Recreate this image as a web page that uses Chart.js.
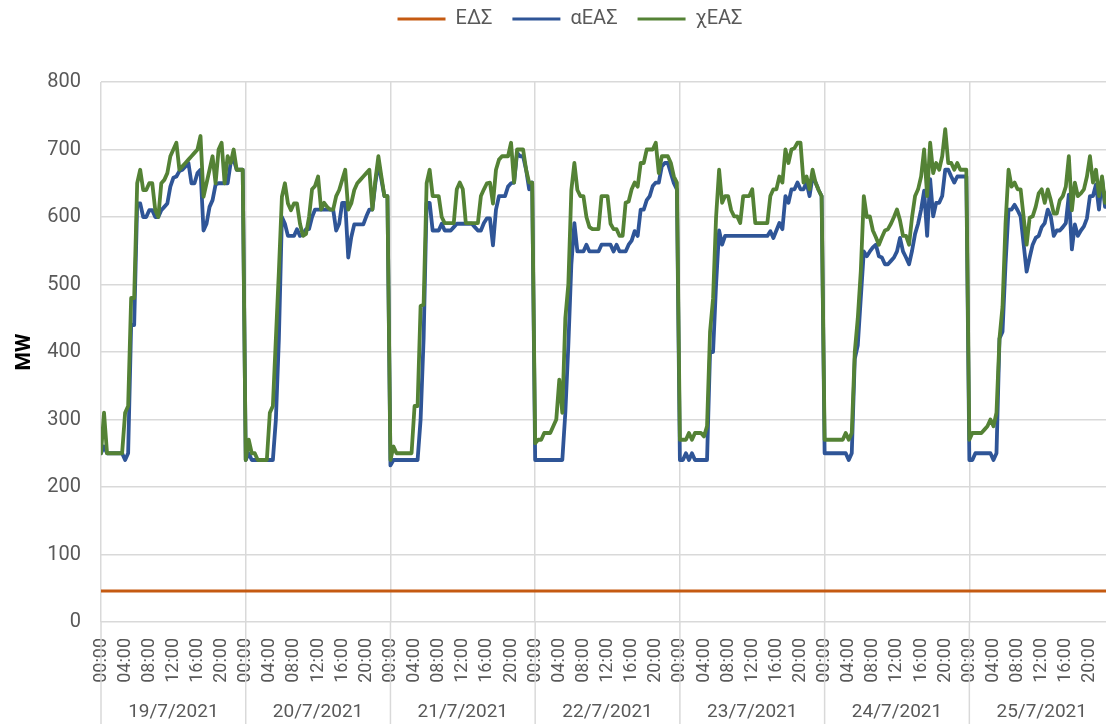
<!DOCTYPE html>
<html>
<head>
<meta charset="utf-8">
<script src="https://cdn.jsdelivr.net/npm/chart.js@4.4.1/dist/chart.umd.min.js"></script>
<style>
  html, body { margin: 0; padding: 0; background: #fff; overflow: hidden; }
  #wrap { width: 1140px; height: 724px; position: relative; }
</style>
</head>
<body>
<div id="wrap"><canvas id="chart"></canvas></div>
<script>
// half-hourly values, 48 per day
const dayLabels = ['19/7/2021', '20/7/2021', '21/7/2021', '22/7/2021', '23/7/2021', '24/7/2021', '25/7/2021'];
const hourTicks = ['00:00', '04:00', '08:00', '12:00', '16:00', '20:00'];
const STEPS_PER_DAY = 48;
const edsLevel = 46;

const aeas19 = [250,260,250,250,250,250,250,250, 240,250,440,440,620,620,600,600, 610,610,600,600,610,615,620,645, 658,660,668,670,675,680,650,650, 665,670,580,590,615,625,648,650, 650,650,650,680,685,670,670,670];
const aeas20 = [240,250,240,240,240,240,240,240, 240,240,300,420,600,590,572,572, 572,582,572,575,582,582,600,611, 611,611,611,611,611,611,580,590, 621,621,540,570,589,589,589,589, 601,611,611,650,680,655,631,631];
const aeas21 = [232,240,240,240,240,240,240,240, 240,240,300,420,621,621,580,580, 580,590,580,580,580,585,590,590, 590,590,590,590,585,580,580,591, 598,598,558,611,631,631,631,645, 650,651,695,690,690,670,641,651];
const aeas22 = [240,240,240,240,240,240,240,240, 240,240,310,410,530,591,549,549, 549,559,549,549,549,549,559,559, 559,559,549,559,549,549,549,559, 565,579,572,611,611,625,631,646, 651,651,675,680,680,665,650,641];
const aeas23 = [240,240,250,240,250,240,240,240, 240,240,400,400,500,580,559,572, 572,572,572,572,572,572,572,572, 572,572,572,572,572,572,579,569, 580,591,582,631,621,641,641,651, 641,641,651,631,660,651,640,631];
const aeas24 = [250,250,250,250,250,250,250,250, 240,250,390,410,480,549,542,549, 555,559,542,540,530,530,535,540, 549,569,549,540,530,550,575,590, 611,639,572,656,601,621,621,631, 670,670,660,651,660,660,660,660];
const aeas25 = [240,240,250,250,250,250,250,250, 240,250,420,430,530,611,611,618, 610,601,560,519,540,559,569,572, 585,591,611,601,572,580,580,585, 591,633,552,589,572,580,586,598, 631,631,648,611,658,615,620,630];

const xeas19 = [250,310,250,250,250,250,250,250, 310,320,480,480,650,670,640,640, 650,650,610,600,650,655,665,690, 700,710,670,675,680,685,690,695, 700,720,630,650,670,690,650,700, 710,650,690,680,700,670,670,670];
const xeas20 = [240,270,250,250,240,240,240,240, 310,320,420,520,630,650,620,610, 620,620,590,572,575,600,641,646, 660,611,621,615,611,611,631,640, 655,670,611,620,640,650,655,660, 665,670,611,655,690,660,631,631];
const xeas21 = [240,260,250,250,250,250,250,250, 320,320,468,470,650,670,631,631, 631,600,591,591,591,591,641,651, 641,591,591,591,591,591,631,641, 650,651,620,670,685,690,690,690, 710,651,700,700,700,670,651,651];
const xeas22 = [265,270,270,280,280,280,290,300, 359,310,450,500,640,680,640,631, 631,600,585,582,582,582,631,631, 631,590,582,582,572,572,621,623, 641,651,645,680,680,700,700,700, 710,665,690,690,690,680,660,651];
const xeas23 = [270,270,270,280,270,280,280,280, 275,290,430,479,600,670,621,631, 631,610,601,601,591,631,631,631, 641,591,591,591,591,591,631,641, 641,660,651,700,680,700,702,710, 710,651,660,641,670,651,640,631];
const xeas24 = [270,270,270,270,270,270,270,280, 270,280,400,450,520,631,600,601, 580,570,559,570,580,582,590,600, 611,595,572,572,559,600,631,641, 660,700,631,710,665,680,670,690, 730,680,680,670,680,670,670,670];
const xeas25 = [270,280,280,280,280,285,290,300, 290,310,420,467,590,670,645,651, 641,641,600,559,599,601,615,635, 641,621,641,625,605,605,625,631, 645,690,610,651,631,635,641,660, 690,651,670,631,660,621,640,650];

const aeasMW = [].concat(aeas19, aeas20, aeas21, aeas22, aeas23, aeas24, aeas25);
const xeasMW = [].concat(xeas19, xeas20, xeas21, xeas22, xeas23, xeas24, xeas25);

const totalSteps = dayLabels.length * STEPS_PER_DAY;
const toPoints = (values) => values.map((v, k) => ({ x: k, y: v }));
const edsPoints = aeasMW.map((_v, k) => ({ x: k, y: edsLevel }));

const GRID = '#d9d9d9';
const TEXT = '#595959';
const FONT = 'Roboto, "Noto Sans", sans-serif';

// legend sits high, with a tall gap below it before the plot
const legendSpacer = {
  id: 'legendSpacer',
  beforeInit(chart) {
    const legend = chart.legend;
    const originalFit = legend.fit;
    const originalDraw = legend.draw;
    legend.fit = function fit() {
      originalFit.call(this);
      this.height = 82;
    };
    legend.draw = function draw(...args) {
      this.ctx.save();
      this.ctx.translate(0, -11);
      originalDraw.apply(this, args);
      this.ctx.restore();
    };
  },
};

const dayBands = {
  id: 'dayBands',
  afterDraw(chart) {
    const { ctx, chartArea } = chart;
    const x = chart.scales.x;
    ctx.save();
    ctx.strokeStyle = GRID;
    ctx.lineWidth = 1.5;
    ctx.fillStyle = TEXT;
    ctx.font = `19px ${FONT}`;
    ctx.textAlign = 'center';
    ctx.textBaseline = 'middle';
    dayLabels.forEach((label, d) => {
      const left = x.getPixelForValue(d * STEPS_PER_DAY);
      ctx.beginPath();
      ctx.moveTo(left, chartArea.bottom);
      ctx.lineTo(left, chart.height);
      ctx.stroke();
      ctx.fillText(label, x.getPixelForValue(d * STEPS_PER_DAY + STEPS_PER_DAY / 2), chart.height - 12);
    });
    ctx.restore();
  },
};

const lineStyle = {
  pointRadius: 0,
  borderWidth: 3.8,
  tension: 0,
  borderJoinStyle: 'round',
  borderCapStyle: 'round',
};

new Chart(document.getElementById('chart'), {
  type: 'line',
  data: {
    datasets: [
      { label: 'ΕΔΣ', data: edsPoints, borderColor: '#c55a11', backgroundColor: '#c55a11', order: 2, ...lineStyle, borderWidth: 3 },
      { label: 'αΕΑΣ', data: toPoints(aeasMW), borderColor: '#2f5597', backgroundColor: '#2f5597', order: 1, ...lineStyle },
      { label: 'χΕΑΣ', data: toPoints(xeasMW), borderColor: '#548235', backgroundColor: '#548235', order: 0, ...lineStyle },
    ],
  },
  options: {
    responsive: true,
    maintainAspectRatio: false,
    animation: false,
    layout: { padding: 0 },
    plugins: {
      tooltip: { enabled: false },
      legend: {
        position: 'top',
        labels: {
          boxWidth: 48,
          boxHeight: 3,
          padding: 20,
          color: TEXT,
          font: { family: FONT, size: 20 },
          sort: (a, b) => a.datasetIndex - b.datasetIndex,
          generateLabels(chart) {
            return Chart.defaults.plugins.legend.labels.generateLabels(chart).map((item) => ({ ...item, lineWidth: 0 }));
          },
        },
      },
    },
    scales: {
      x: {
        type: 'linear',
        min: 0,
        max: totalSteps + 8.6,
        afterFit(scale) {
          scale.height = 102;
          scale.paddingLeft = 0;
          scale.paddingRight = 0;
        },
        border: { display: false },
        grid: {
          drawTicks: false,
          lineWidth: 1.5,
          color: (ctx) => (ctx.tick && ctx.tick.value % STEPS_PER_DAY === 0 && ctx.tick.value < totalSteps ? GRID : 'rgba(0,0,0,0)'),
        },
        ticks: {
          stepSize: 8,
          autoSkip: false,
          includeBounds: false,
          minRotation: 90,
          maxRotation: 90,
          padding: 16,
          color: TEXT,
          font: { family: FONT, size: 18 },
          callback: (value) => (value < totalSteps ? hourTicks[(value % STEPS_PER_DAY) / 8] : ''),
        },
      },
      y: {
        min: 0,
        max: 800,
        afterFit(scale) { scale.width = 101; },
        border: { display: false },
        grid: { color: GRID, lineWidth: 1.5, drawTicks: false },
        ticks: { stepSize: 100, padding: 20, color: TEXT, font: { family: FONT, size: 20 } },
        title: {
          display: true,
          text: 'MW',
          color: '#000',
          padding: { top: 12, bottom: 0 },
          font: { family: FONT, size: 21, weight: 'bold' },
        },
      },
    },
  },
  plugins: [legendSpacer, dayBands],
});
</script>
</body>
</html>
